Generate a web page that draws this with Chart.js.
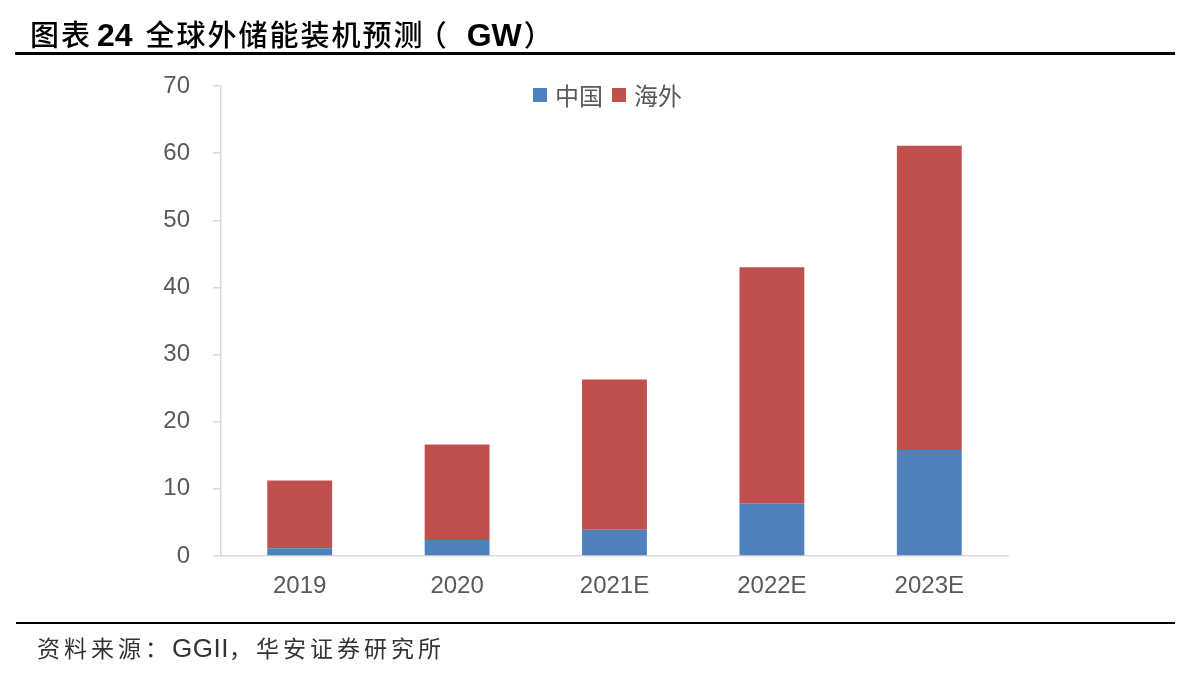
<!DOCTYPE html>
<html>
<head>
<meta charset="utf-8">
<script src="https://cdn.jsdelivr.net/npm/chart.js@4"></script>
<style>
  html, body { margin: 0; padding: 0; background: #fff; }
  #wrap { position: relative; width: 1188px; height: 675px; overflow: hidden; }
  #title { position: absolute; left: 30px; top: 12px; color: #000; white-space: nowrap; line-height: 40px; }
  #title .c { font: 500 29px "Noto Sans CJK SC", sans-serif; letter-spacing: 2px; }
  #title .l { font: bold 32px "Liberation Sans", sans-serif; letter-spacing: 0px; }
  #topline { position: absolute; left: 15px; width: 1160px; top: 52px; height: 2.5px; background: #000; }
  #botline { position: absolute; left: 16px; width: 1159px; top: 621.5px; height: 2.5px; background: #000; }
  #source { position: absolute; left: 37px; top: 630px; color: #333; white-space: nowrap; line-height: 32px; }
  #source .c { font: 23px "Noto Sans CJK SC", sans-serif; letter-spacing: 4px; }
  #source .l { font: 26px "Liberation Sans", sans-serif; letter-spacing: 0.5px; }
  #legend { position: absolute; left: 533px; top: 77px; font: 24px "Noto Sans CJK SC", sans-serif; color: #595959; white-space: nowrap; display: flex; align-items: center; }
  #legend .sw { display: inline-block; width: 14px; height: 14px; margin-right: 8px; }
  #legend .it { display: flex; align-items: center; margin-right: 9px; }
  #cv { position: absolute; left: 0; top: 0; }
</style>
</head>
<body>
<div id="wrap">
  <canvas id="cv" width="1188" height="675"></canvas>
  <div id="title"><span class="c">图表</span><span class="l" style="margin-left:5px">24</span><span class="c" style="margin-left:13px">全球外储能装机预测</span><span class="c" style="margin-left:-7px">（</span><span class="l" style="margin-left:18px">GW</span><span class="c" style="margin-left:2px">）</span></div>
  <div id="topline"></div>
  <div id="legend"></div>
  <div id="botline"></div>
  <div id="source"><span class="c">资料来源：</span><span class="l">GGII</span><span class="c">，华安证券研究所</span></div>
</div>
<script>
const categories = ["2019", "2020", "2021E", "2022E", "2023E"];
const chinaValues = [1.15, 2.4, 3.9, 7.8, 15.8];
const overseasValues = [10.1, 14.2, 22.4, 35.2, 45.3];
const seriesNames = ["中国", "海外"];
const seriesColors = ["#4F81BD", "#C0504D"];
const yTicks = [0, 10, 20, 30, 40, 50, 60, 70];

const lg = document.getElementById('legend');
seriesNames.forEach((n, i) => {
  const it = document.createElement('span');
  it.className = 'it';
  it.innerHTML = '<span class="sw" style="background:' + seriesColors[i] + '"></span>' + n;
  lg.appendChild(it);
});

Chart.defaults.font.family = '"Liberation Sans", "Noto Sans CJK SC", sans-serif';
new Chart(document.getElementById('cv'), {
  type: 'bar',
  data: {
    labels: categories,
    datasets: [
      { label: seriesNames[0], data: chinaValues, backgroundColor: seriesColors[0] },
      { label: seriesNames[1], data: overseasValues, backgroundColor: seriesColors[1] }
    ]
  },
  options: {
    responsive: false,
    animation: false,
    devicePixelRatio: 1,
    layout: { padding: { left: 0, right: 180, top: 86, bottom: 0 } },
    plugins: { legend: { display: false }, tooltip: { enabled: false } },
    datasets: { bar: { categoryPercentage: 1, barPercentage: 0.412 } },
    scales: {
      x: {
        stacked: true,
        grid: { display: false },
        border: { display: true, color: '#d9d9d9', width: 1.5 },
        ticks: { color: '#595959', font: { size: 24 }, padding: 8 },
        afterFit: s => { s.height = 119; }
      },
      y: {
        stacked: true,
        min: 0, max: 70,
        afterBuildTicks: s => { s.ticks = yTicks.map(v => ({ value: v })); },
        grid: { drawOnChartArea: false, drawTicks: true, tickLength: 8, color: '#d9d9d9', lineWidth: 1.5 },
        border: { display: true, color: '#d9d9d9', width: 1.5 },
        ticks: { color: '#595959', font: { size: 24 }, padding: 23 },
        afterFit: s => { s.width = 221; }
      }
    }
  }
});
</script>
</body>
</html>
